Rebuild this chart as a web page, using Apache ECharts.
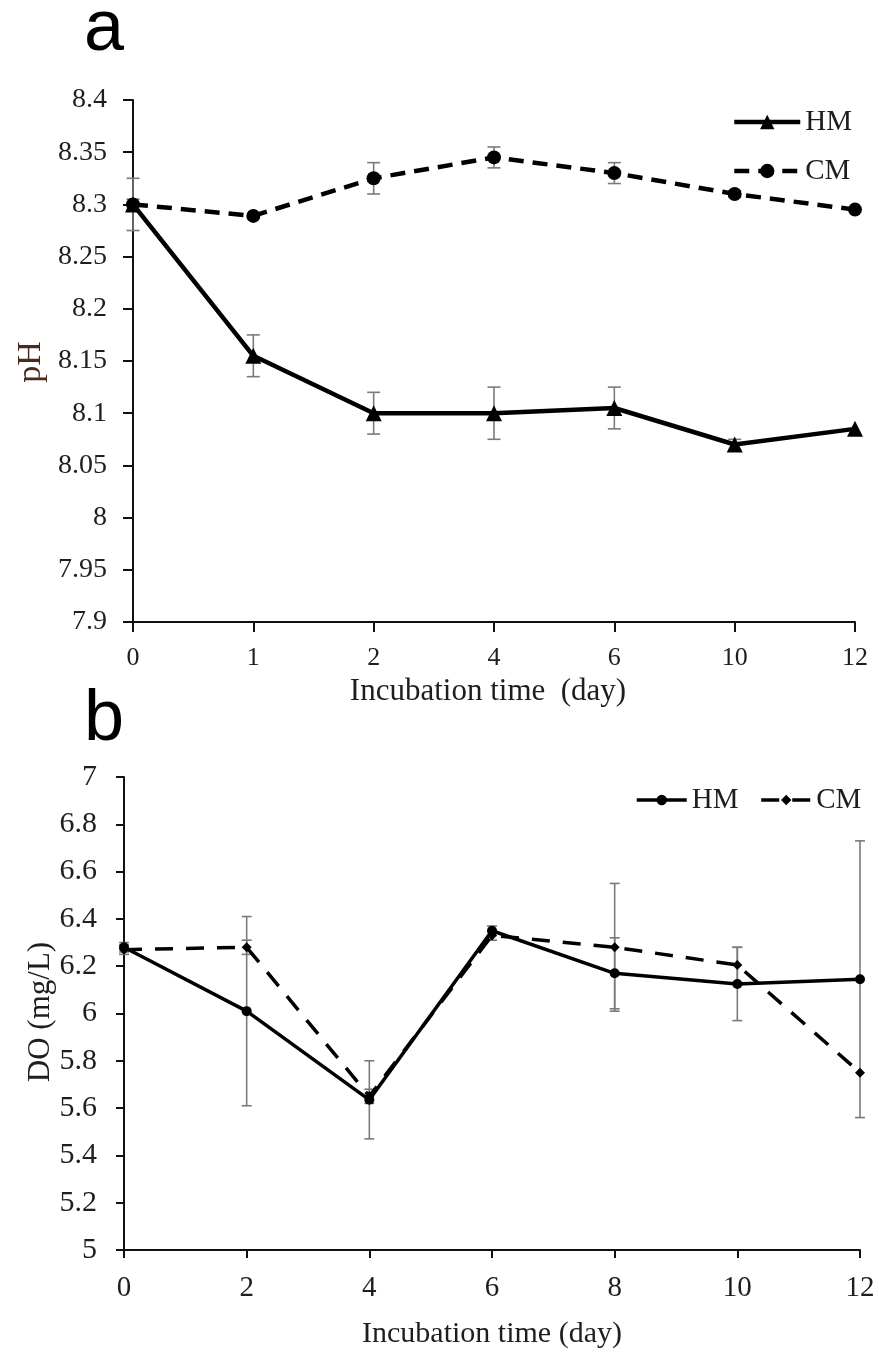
<!DOCTYPE html>
<html>
<head>
<meta charset="utf-8">
<script src="https://cdn.jsdelivr.net/npm/echarts@6/dist/echarts.min.js"></script>
<style>
  html, body { margin: 0; padding: 0; background: #fff; }
  #chart { width: 879px; height: 1354px; }
</style>
</head>
<body>
<div id="chart"></div>
<script>
// panel a: pH
const phDays = ['0', '1', '2', '4', '6', '10', '12'];
const phHM = [8.30, 8.155, 8.10, 8.10, 8.105, 8.07, 8.085];
const phHMErr = [0.025, 0.02, 0.02, 0.025, 0.02, 0.005, 0];
const phCM = [8.30, 8.289, 8.325, 8.345, 8.33, 8.31, 8.295];
const phCMErr = [0.005, 0, 0.015, 0.01, 0.01, 0.003, 0];

// panel b: DO
const doDays = [0, 2, 4, 6, 8, 10, 12];
const doHM = [6.28, 6.01, 5.635, 6.35, 6.17, 6.125, 6.145];
const doHMErr = [0.02, 0.40, 0.165, 0.02, 0.15, 0.155, 0.585];
const doCM = [6.27, 6.28, 5.65, 6.33, 6.28, 6.205, 5.75];
const doCMErr = [0.02, 0.03, 0.03, 0.02, 0.27, 0.075, 0];

const serif = 'Liberation Serif';
const textColor = '#1e1e1e';

// [x, low, high] for the error bar series
function errRows(xs, vals, errs) {
  return vals.map((v, i) => [xs[i], v - errs[i], v + errs[i]]);
}

function errorBar(capW) {
  return function (params, api) {
    const x = api.value(0);
    const lo = api.value(1);
    const hi = api.value(2);
    if (hi - lo < 1e-9) return null;
    const top = api.coord([x, hi]);
    const bot = api.coord([x, lo]);
    const style = { stroke: '#7a7a7a', lineWidth: 1.6 };
    return {
      type: 'group',
      children: [
        { type: 'line', shape: { x1: top[0], y1: top[1], x2: bot[0], y2: bot[1] }, style: style },
        { type: 'line', shape: { x1: top[0] - capW / 2, y1: top[1], x2: top[0] + capW / 2, y2: top[1] }, style: style },
        { type: 'line', shape: { x1: bot[0] - capW / 2, y1: bot[1], x2: bot[0] + capW / 2, y2: bot[1] }, style: style }
      ]
    };
  };
}

const chart = echarts.init(document.getElementById('chart'), null, { renderer: 'canvas' });

const axisLine = { show: true, lineStyle: { color: '#111', width: 2 } };

chart.setOption({
  backgroundColor: '#fff',
  animation: false,
  grid: [
    { left: 133, right: 24, top: 100, height: 522 },
    { left: 124, right: 19, top: 777, height: 473 }
  ],
  xAxis: [
    {
      gridIndex: 0,
      type: 'category',
      data: phDays,
      boundaryGap: false,
      axisLine: axisLine,
      axisTick: { show: true, length: 10, lineStyle: { color: '#111', width: 2 } },
      axisLabel: { fontFamily: serif, fontSize: 26, color: textColor, margin: 23 },
      splitLine: { show: false }
    },
    {
      gridIndex: 1,
      type: 'value',
      min: 0,
      max: 12,
      interval: 2,
      axisLine: axisLine,
      axisTick: { show: true, length: 8, lineStyle: { color: '#111', width: 2 } },
      axisLabel: { fontFamily: serif, fontSize: 29, color: textColor, margin: 24 },
      splitLine: { show: false }
    }
  ],
  yAxis: [
    {
      gridIndex: 0,
      type: 'value',
      min: 7.9,
      max: 8.4,
      interval: 0.05,
      axisLine: axisLine,
      axisTick: { show: true, length: 10, lineStyle: { color: '#111', width: 2 } },
      axisLabel: { fontFamily: serif, fontSize: 28, color: textColor, margin: 26 },
      splitLine: { show: false }
    },
    {
      gridIndex: 1,
      type: 'value',
      min: 5,
      max: 7,
      interval: 0.2,
      axisLine: axisLine,
      axisTick: { show: true, length: 8, lineStyle: { color: '#111', width: 2 } },
      axisLabel: { fontFamily: serif, fontSize: 30, color: textColor, margin: 27 },
      splitLine: { show: false }
    }
  ],
  legend: [
    {
      data: ['pH HM', 'pH CM'],
      orient: 'vertical',
      left: 727,
      top: 102,
      itemWidth: 66,
      itemHeight: 18,
      itemGap: 19,
      selectedMode: false,
      lineStyle: { width: 4.5 },
      formatter: name => name.split(' ')[1],
      textStyle: { fontFamily: serif, fontSize: 29, color: textColor, lineHeight: 30 }
    },
    {
      data: ['DO HM', 'DO CM'],
      orient: 'horizontal',
      left: 630,
      top: 780,
      itemWidth: 50,
      itemHeight: 13,
      itemGap: 21,
      selectedMode: false,
      lineStyle: { width: 3.5 },
      formatter: name => name.split(' ')[1],
      textStyle: { fontFamily: serif, fontSize: 29, color: textColor, lineHeight: 30 }
    }
  ],
  graphic: [
    { type: 'text', left: 84, top: -6, style: { text: 'a', font: '72px "Liberation Sans"', fill: '#000' } },
    { type: 'text', left: 84, top: 684, style: { text: 'b', font: '72px "Liberation Sans"', fill: '#000' } },
    {
      type: 'text', x: 31, y: 362, rotation: Math.PI / 2,
      style: { text: 'pH', font: '34px "Liberation Serif"', fill: '#4a2a1c', align: 'center', verticalAlign: 'middle' }
    },
    {
      type: 'text', x: 41, y: 1012, rotation: Math.PI / 2,
      style: { text: 'DO (mg/L)', font: '31px "Liberation Serif"', fill: textColor, align: 'center', verticalAlign: 'middle' }
    },
    {
      type: 'text', x: 488, y: 692,
      style: { text: 'Incubation time  (day)', font: '31px "Liberation Serif"', fill: textColor, align: 'center', verticalAlign: 'middle' }
    },
    {
      type: 'text', x: 492, y: 1334,
      style: { text: 'Incubation time (day)', font: '30px "Liberation Serif"', fill: textColor, align: 'center', verticalAlign: 'middle' }
    }
  ],
  series: [
    {
      type: 'custom',
      xAxisIndex: 0, yAxisIndex: 0,
      renderItem: errorBar(13),
      encode: { x: 0, y: [1, 2] },
      data: errRows(phDays.map((d, i) => i), phHM, phHMErr),
      z: 1
    },
    {
      type: 'custom',
      xAxisIndex: 0, yAxisIndex: 0,
      renderItem: errorBar(13),
      encode: { x: 0, y: [1, 2] },
      data: errRows(phDays.map((d, i) => i), phCM, phCMErr),
      z: 1
    },
    {
      name: 'pH HM',
      type: 'line',
      xAxisIndex: 0, yAxisIndex: 0,
      data: phHM,
      symbol: 'triangle',
      symbolSize: 16,
      itemStyle: { color: '#000' },
      lineStyle: { color: '#000', width: 4.5 },
      z: 3
    },
    {
      name: 'pH CM',
      type: 'line',
      xAxisIndex: 0, yAxisIndex: 0,
      data: phCM,
      symbol: 'circle',
      symbolSize: 14,
      itemStyle: { color: '#000' },
      lineStyle: { color: '#000', width: 4.5, type: [15, 9] },
      z: 3
    },
    {
      type: 'custom',
      xAxisIndex: 1, yAxisIndex: 1,
      renderItem: errorBar(10),
      encode: { x: 0, y: [1, 2] },
      data: errRows(doDays, doHM, doHMErr),
      z: 1
    },
    {
      type: 'custom',
      xAxisIndex: 1, yAxisIndex: 1,
      renderItem: errorBar(10),
      encode: { x: 0, y: [1, 2] },
      data: errRows(doDays, doCM, doCMErr),
      z: 1
    },
    {
      name: 'DO HM',
      type: 'line',
      xAxisIndex: 1, yAxisIndex: 1,
      data: doDays.map((d, i) => [d, doHM[i]]),
      symbol: 'circle',
      symbolSize: 10,
      itemStyle: { color: '#000' },
      lineStyle: { color: '#000', width: 3.5 },
      z: 3
    },
    {
      name: 'DO CM',
      type: 'line',
      xAxisIndex: 1, yAxisIndex: 1,
      data: doDays.map((d, i) => [d, doCM[i]]),
      symbol: 'diamond',
      symbolSize: 10,
      itemStyle: { color: '#000' },
      lineStyle: { color: '#000', width: 3.5, type: [18, 13] },
      z: 3
    }
  ]
});
</script>
</body>
</html>
